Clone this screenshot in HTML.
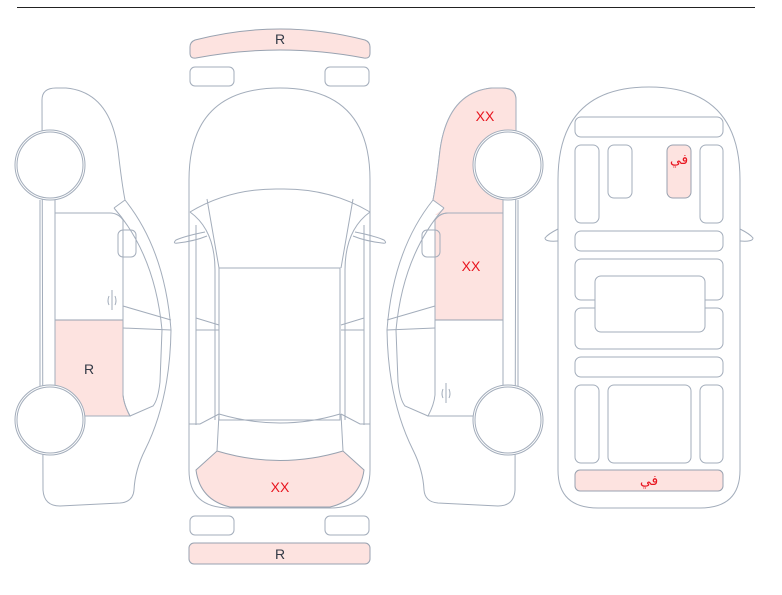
<!DOCTYPE html>
<html><head><meta charset="utf-8">
<style>
html,body{margin:0;padding:0;background:#fff;}
svg{display:block;}
text{font-family:"Liberation Sans","DejaVu Sans",sans-serif;}
</style></head>
<body>
<svg width="782" height="595" viewBox="0 0 782 595" xmlns="http://www.w3.org/2000/svg">
<line x1="17" y1="7.5" x2="755" y2="7.5" stroke="#222" stroke-width="1"/>
<g fill="none" stroke="#a3adbb" stroke-width="1">

<!-- LEFT SIDE CAR -->
<path d="M42,100 Q42,88 56,88 L66,88 Q110,92 118,150 Q122,185 125,200 Q165,250 171,330 Q170,400 145,450 Q135,470 134,490 Q133,502 120,503 L60,506 Q44,506 43,490 Z" fill="#fff"/>
<path d="M55,320 L123,320 L123,395 Q124,405 130,416 L55,416 Z" fill="#fde3e0" stroke="#98a2b0"/>
<g>
<path d="M40,200 L40,390 M55,200 L55,390"/>
<path d="M55,213 L110,213 Q118,213 123,220 L123,395 Q124,405 130,416 L55,416"/>
<path d="M114,208 L125,200"/>
<path d="M114,208 Q155,255 162,330 L160,382 Q158,400 153,406 L130,416"/>
<path d="M123,306 L171,320 M123,328 L171,330"/>
<rect x="118" y="230" width="18" height="27" rx="5"/>
<path d="M112,290 L112,310 M109,296 Q107,301 109,305 M115,296 Q117,301 115,305"/>
<circle cx="50" cy="165" r="35" fill="#fff"/><circle cx="50" cy="165" r="33"/>
<circle cx="50" cy="420" r="35" fill="#fff"/><circle cx="50" cy="420" r="33"/>
</g>

<!-- RIGHT SIDE CAR (mirrored) -->
<g transform="translate(558,0) scale(-1,1)">
<path d="M42,100 Q42,88 56,88 L66,88 Q110,92 118,150 Q122,185 125,200 Q165,250 171,330 Q170,400 145,450 Q135,470 134,490 Q133,502 120,503 L60,506 Q44,506 43,490 Z" fill="#fff"/>
<path d="M42,198 L42,100 Q42,88 56,88 L66,88 Q110,92 118,150 Q122,185 125,200 L114,208 L123,215 L55,213 L55,198 Z" fill="#fde3e0" stroke="none"/>
<path d="M42,198 L42,100 Q42,88 56,88 L66,88 Q110,92 118,150 Q122,185 125,200"/>
<path d="M55,213 L110,213 Q118,213 123,220 L123,320 L55,320 Z" fill="#fde3e0" stroke="#98a2b0"/>
<path d="M40,200 L40,390 M55,200 L55,390"/>
<path d="M55,213 L110,213 Q118,213 123,220 L123,395 Q124,405 130,416 L55,416"/>
<path d="M114,208 L125,200"/>
<path d="M114,208 Q155,255 162,330 L160,382 Q158,400 153,406 L130,416"/>
<path d="M123,306 L171,320 M123,328 L171,330"/>
<rect x="118" y="230" width="18" height="27" rx="5"/>
<path d="M112,383 L112,403 M109,389 Q107,394 109,398 M115,389 Q117,394 115,398"/>
<circle cx="50" cy="165" r="35" fill="#fff"/><circle cx="50" cy="165" r="33"/>
<circle cx="50" cy="420" r="35" fill="#fff"/><circle cx="50" cy="420" r="33"/>
</g>

<!-- TOP VIEW CAR -->
<path d="M195,40 Q280,18 365,40 Q370,42 370,47 L370,53 Q370,59 364,58 Q280,42 196,58 Q190,59 190,53 L190,47 Q190,42 195,40 Z" fill="#fde3e0" stroke="#98a2b0"/>
<rect x="190" y="67" width="44" height="19" rx="5"/>
<rect x="325" y="67" width="44" height="19" rx="5"/>
<path d="M189,180 Q189,88 280,88 Q370,88 370,180 L370,470 Q370,508 330,508 L230,508 Q189,508 189,470 Z" fill="#fff"/>
<path d="M196,470 L217,451 Q280,470 343,451 L364,470 Q360,500 330,507 L230,507 Q200,500 196,470 Z" fill="#fde3e0" stroke="#98a2b0"/>
<path d="M190,212 Q230,188 280,189 Q330,188 370,212"/>
<path d="M207,199 L219,268 M353,199 L341,268"/>
<path d="M190,212 Q215,230 215,270 L215,420 M370,212 Q345,230 345,270 L345,420"/>
<path d="M196,225 L196,425 M364,225 L364,425"/>
<rect x="219" y="268" width="121" height="152"/>
<path d="M219,414 Q280,432 340,414"/>
<path d="M219,414 L217,451 M341,414 L343,451"/>
<path d="M196,318 L219,325 M196,330 L219,330 M364,318 L341,325 M364,330 L341,330"/>
<path d="M189,424 L200,424 L219,414 M370,424 L360,424 L341,414"/>
<path d="M205,232 Q185,236 176,240 Q172,244 178,243 Q195,241 207,236 M355,232 Q375,236 384,240 Q388,244 382,243 Q365,241 353,236"/>
<rect x="190" y="516" width="44" height="19" rx="5"/>
<rect x="325" y="516" width="44" height="19" rx="5"/>
<rect x="189" y="543" width="181" height="21" rx="5" fill="#fde3e0" stroke="#98a2b0"/>

<!-- INTERIOR VIEW -->
<path d="M558,180 Q558,87 649,87 Q740,87 740,180 L740,470 Q740,508 700,508 L598,508 Q558,508 558,470 Z" fill="#fff"/>
<path d="M558,229 Q548,234 545,238 Q545,242 558,241 M740,229 Q750,234 753,238 Q753,242 740,241"/>
<rect x="575" y="117" width="148" height="20" rx="6"/>
<rect x="575" y="145" width="24" height="78" rx="6"/>
<rect x="608" y="145" width="24" height="53" rx="6"/>
<rect x="667" y="145" width="24" height="53" rx="6" fill="#fde3e0" stroke="#98a2b0"/>
<rect x="700" y="145" width="23" height="78" rx="6"/>
<rect x="575" y="231" width="148" height="20" rx="6"/>
<rect x="575" y="259" width="148" height="41" rx="6"/>
<rect x="575" y="308" width="148" height="41" rx="6"/>
<rect x="595" y="276" width="110" height="56" rx="6" fill="#fff"/>
<rect x="575" y="357" width="148" height="20" rx="6"/>
<rect x="575" y="385" width="24" height="78" rx="6"/>
<rect x="608" y="385" width="83" height="78" rx="6"/>
<rect x="700" y="385" width="23" height="78" rx="6"/>
<rect x="575" y="470" width="148" height="21" rx="5" fill="#fde3e0" stroke="#98a2b0"/>
</g>

<g font-size="14" text-anchor="middle">
<text x="89" y="374" fill="#333a46">R</text>
<text x="280" y="44" fill="#333a46">R</text>
<text x="280" y="559" fill="#333a46">R</text>
<text x="280" y="492" fill="#e8141e">XX</text>
<text x="485" y="121" fill="#e8141e">XX</text>
<text x="471" y="271" fill="#e8141e">XX</text>
<text x="679" y="164" fill="#e8141e" font-family="'DejaVu Sans',sans-serif">في</text>
<text x="649" y="485" fill="#e8141e" font-family="'DejaVu Sans',sans-serif">في</text>
</g>
</svg>
</body></html>
